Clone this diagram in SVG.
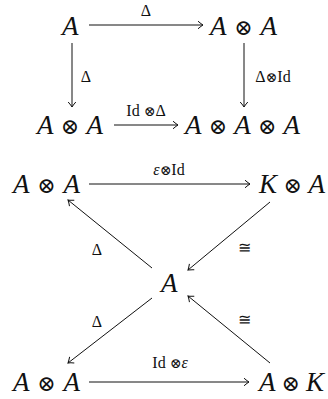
<svg xmlns="http://www.w3.org/2000/svg" width="328" height="399" viewBox="0 0 328 399">
<defs>
<style>
.n{font-family:"Liberation Serif","Times New Roman",serif;font-size:27px;fill:#111}
.i{font-style:italic}
.o{font-family:"DejaVu Serif","Liberation Serif",serif;font-size:22px}
.l{font-family:"Liberation Serif","DejaVu Serif",serif;font-size:16px;fill:#111;text-anchor:middle}
.lo{font-family:"DejaVu Serif",serif;font-size:14px}
.c line{stroke:#111;stroke-width:1;marker-end:url(#ah)}
</style>
<marker id="ah" markerUnits="userSpaceOnUse" orient="auto" refX="0" refY="0" markerWidth="12" markerHeight="12" viewBox="-7 -6 8 12" overflow="visible">
<path d="M-5,-3.8 Q-1.5,-0.8 0,0 Q-1.5,0.8 -5,3.8" fill="none" stroke="#111" stroke-width="1"/>
</marker>
</defs>
<rect width="328" height="399" fill="#fff"/>
<g id="n1"><text class="n i" x="62" y="35">A</text></g>
<g id="n2"><text class="n" x="210" y="35" textLength="67"><tspan class="i">A</tspan> <tspan class="o">⊗</tspan> <tspan class="i">A</tspan></text></g>
<g id="n3"><text class="n" x="37" y="134" textLength="66"><tspan class="i">A</tspan> <tspan class="o">⊗</tspan> <tspan class="i">A</tspan></text></g>
<g id="n4"><text class="n" x="185" y="134" textLength="115"><tspan class="i">A</tspan> <tspan class="o">⊗</tspan> <tspan class="i">A</tspan> <tspan class="o">⊗</tspan> <tspan class="i">A</tspan></text></g>
<g id="n5"><text class="n" x="13" y="193" textLength="67"><tspan class="i">A</tspan> <tspan class="o">⊗</tspan> <tspan class="i">A</tspan></text></g>
<g id="n6"><text class="n" x="259" y="193" textLength="66"><tspan class="i">K</tspan> <tspan class="o">⊗</tspan> <tspan class="i">A</tspan></text></g>
<g id="n7"><text class="n i" x="161" y="292">A</text></g>
<g id="n8"><text class="n" x="13" y="391" textLength="67"><tspan class="i">A</tspan> <tspan class="o">⊗</tspan> <tspan class="i">A</tspan></text></g>
<g id="n9"><text class="n" x="259" y="391" textLength="65"><tspan class="i">A</tspan> <tspan class="o">⊗</tspan> <tspan class="i">K</tspan></text></g>
<g id="connectors" class="c">
<line x1="89" y1="25" x2="203" y2="25"/>
<line x1="72" y1="43" x2="72" y2="107"/>
<line x1="244" y1="43" x2="244" y2="107"/>
<line x1="114" y1="125" x2="178" y2="125"/>
<line x1="89" y1="184" x2="250" y2="184"/>
<line x1="152" y1="268" x2="68" y2="200"/>
<line x1="270" y1="202" x2="188" y2="270"/>
<line x1="152" y1="298" x2="68" y2="363"/>
<line x1="270" y1="363" x2="188" y2="296"/>
<line x1="89" y1="382" x2="249" y2="382"/>
</g>
<g id="labels">
<text class="l" x="146" y="16">Δ</text>
<text class="l" x="86" y="82">Δ</text>
<text class="l" x="273" y="82"><tspan>Δ</tspan><tspan class="lo">⊗</tspan><tspan>Id</tspan></text>
<text class="l" x="146" y="116"><tspan>Id </tspan><tspan class="lo">⊗</tspan><tspan>Δ</tspan></text>
<text class="l" x="169" y="175"><tspan class="i">ε</tspan><tspan class="lo">⊗</tspan><tspan>Id</tspan></text>
<text class="l" x="97" y="255">Δ</text>
<text class="l" x="244" y="253">≅</text>
<text class="l" x="97" y="327">Δ</text>
<text class="l" x="244" y="325">≅</text>
<text class="l" x="170" y="368"><tspan>Id </tspan><tspan class="lo">⊗</tspan><tspan class="i">ε</tspan></text>
</g>
</svg>
